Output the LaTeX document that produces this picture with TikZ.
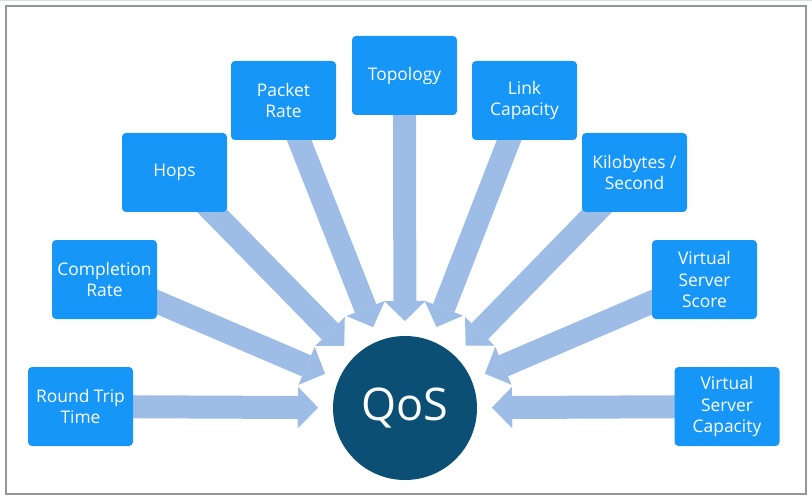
\documentclass[tikz,border=0pt]{standalone}
\usepackage{fontspec}
\setmainfont{Open Sans}
\usetikzlibrary{arrows.meta,backgrounds}
\definecolor{boxblue}{RGB}{22,150,246}
\definecolor{arrblue}{RGB}{157,189,230}
\definecolor{qosblue}{RGB}{11,79,117}
\definecolor{framegray}{RGB}{150,150,150}
\tikzset{
  box/.style={rectangle, rounded corners=4pt, fill=boxblue, text=white,
    minimum width=105pt, minimum height=79pt, inner sep=0pt, align=center,
    font=\fontsize{17.4}{21.5}\selectfont},
  qos/.style={circle, fill=qosblue, text=white, minimum size=144pt, inner sep=0pt,
    font=\fontsize{45}{45}\selectfont},
  arr/.style={draw=arrblue, line width=23pt,
    -{Triangle[width=41pt,length=20pt,line width=0.01pt]}, shorten >=87pt},
  frame/.style={draw=framegray, line width=2.5pt}
}
\begin{document}
\begin{tikzpicture}[x=1pt,y=-1pt]
\useasboundingbox (0,0) rectangle (812,500);
\node[qos] (q) at (405,408) {QoS};
\node[box] (rtt) at (80.5,406.5) {Round Trip\\Time};
\node[box] (comp) at (104.5,279.5) {Completion\\Rate};
\node[box] (hops) at (174.5,172.5) {Hops};
\node[box] (pkt) at (283.5,100.5) {Packet\\Rate};
\node[box] (topo) at (404.5,75.5) {Topology};
\node[box] (link) at (524.5,100.5) {Link\\Capacity};
\node[box] (kb) at (634.5,172.5) {Kilobytes /\\Second};
\node[box] (vss) at (704.5,279.5) {Virtual\\Server\\Score};
\node[box] (vsc) at (727,406.5) {Virtual\\Server\\Capacity};
\begin{scope}[on background layer]
\draw[line width=1pt, draw={rgb,255:red,215;green,222;blue,228}] (0,0.5) -- (812,0.5);
\draw[frame] (6,6) rectangle (806,494);
\foreach \n in {rtt,comp,hops,pkt,topo,link,kb,vss,vsc}
  \draw[arr] (\n.center) -- (q.center);
\end{scope}
\end{tikzpicture}
\end{document}
